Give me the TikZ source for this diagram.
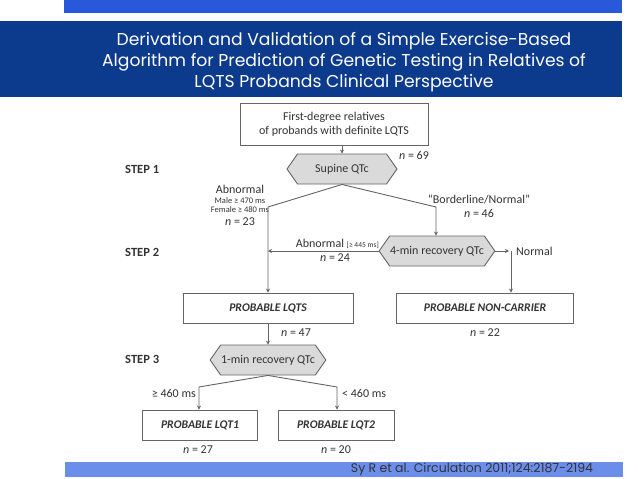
\documentclass[tikz,border=0pt]{standalone}
\usepackage{fontspec}
\setmainfont{Carlito}
\newfontfamily\titlefont{Poppins}
\usetikzlibrary{shapes.symbols,arrows.meta}

\definecolor{topblue}{RGB}{42,88,218}
\definecolor{titleblue}{RGB}{12,58,140}
\definecolor{citeblue}{RGB}{108,142,235}
\definecolor{linegray}{RGB}{100,100,100}
\definecolor{hexfill}{RGB}{218,218,218}

\begin{document}
\begin{tikzpicture}[x=1pt,y=-1pt,
  every node/.style={font=\fontsize{12}{14}\selectfont,text=black!80},
  box/.style={draw=linegray,line width=0.9pt,fill=white,minimum height=30pt,inner sep=2pt},
  hexa/.style={signal,signal to=west and east,signal pointer angle=110,draw=linegray,
    fill=hexfill,line width=0.9pt,minimum height=30pt,minimum width=110pt,inner sep=0.5pt},
  link/.style={draw=linegray,line width=0.9pt},
  arr/.style={link,-{Stealth[length=4pt,width=4pt]}},
  steplabel/.style={font=\fontsize{12.5}{14}\selectfont\bfseries,anchor=west,inner sep=0pt},
  tinytext/.style={font=\fontsize{8.5}{9}\selectfont,inner sep=0pt},
  result/.style={font=\fontsize{11.7}{14}\selectfont\bfseries\itshape}
]
  \useasboundingbox[fill=white] (0,0) rectangle (638,479);
  % banner
  \fill[topblue] (64,0) rectangle (622,13);
  \fill[titleblue] (0,21) rectangle (622,97);
  \node[text=white,align=center,font=\titlefont\fontsize{17.2}{21}\selectfont] (title) at (344,62)
    {Derivation and Validation of a Simple Exercise-Based\\
     Algorithm for Prediction of Genetic Testing in Relatives of\\
     LQTS Probands Clinical Perspective};
  \fill[citeblue] (65,462) rectangle (623,477);
  \node[font=\titlefont\fontsize{12.5}{13}\selectfont,inner sep=0pt] (cite) at (472,469)
    {Sy R et al. Circulation 2011;124:2187-2194};

  % steps
  \node[steplabel] (s1) at (125,169) {STEP 1};
  \node[steplabel] (s2) at (125,252) {STEP 2};
  \node[steplabel] (s3) at (125,359) {STEP 3};

  % boxes
  \node[box,align=center,minimum width=188pt,minimum height=42pt] (rel) at (334,124)
    {First-degree relatives\\of probands with definite LQTS};
  \node[hexa] (supine) at (342,169) {Supine QTc};
  \node[hexa] (four) at (437,251) {4-min recovery QTc};
  \node[box,minimum width=170pt,result] (lqts) at (268,308) {PROBABLE LQTS};
  \node[box,minimum width=177pt,result] (noncar) at (485,308) {PROBABLE NON-CARRIER};
  \node[hexa] (one) at (268,360) {1-min recovery QTc};
  \node[box,minimum width=115pt,result] (lqt1) at (200,425) {PROBABLE LQT1};
  \node[box,minimum width=116pt,result] (lqt2) at (336,425) {PROBABLE LQT2};

  % labels
  \node (n69) at (414,155) {\textit{n} = 69};
  \node (abn1) at (240,189) {Abnormal};
  \node[tinytext] (male) at (240,201) {Male ≥ 470 ms};
  \node[tinytext] (female) at (240,210) {Female ≥ 480 ms};
  \node (n23) at (240,222) {\textit{n} = 23};
  \node (bord) at (479,199) {“Borderline/Normal”};
  \node (n46) at (479,213) {\textit{n} = 46};
  \node[anchor=east,inner sep=0pt] (abn2) at (379,244) {Abnormal {\fontsize{7.5}{8}\selectfont[≥ 445 ms]}};
  \node (n24) at (335,258) {\textit{n} = 24};
  \node[anchor=west,inner sep=0pt] (normal) at (516,251) {Normal};
  \node (n22) at (485,333) {\textit{n} = 22};
  \node (n47) at (296,333) {\textit{n} = 47};
  \node[anchor=east,inner sep=0pt] (ge460) at (196,393) {≥ 460 ms};
  \node[anchor=west,inner sep=0pt] (lt460) at (342,393) {< 460 ms};
  \node (n27) at (198,450) {\textit{n} = 27};
  \node (n20) at (336,450) {\textit{n} = 20};

  % connectors
  \coordinate (lbend) at (268,207);
  \coordinate (rbend) at (436,207);
  \coordinate (nrm) at (511,251);
  \coordinate (b1) at (199,387);
  \coordinate (b2) at (337,387);
  \draw[arr] (supine.north |- rel.south) -- (supine.north);
  \draw[arr] (supine.south) -- (lbend) -- (lqts.north);
  \draw[arr] (supine.south) -- (rbend) -- (rbend |- four.north);
  \draw[arr] (four.west) -- (four.west -| lbend);
  \draw[arr] (four.east) -- ([xshift=-7pt]nrm -| normal.west);
  \draw[arr] (nrm) -- (nrm |- noncar.north);
  \draw[arr] (lqts.south) -- (one.north);
  \draw[arr] (one.south) -- (b1) -- (b1 |- lqt1.north);
  \draw[arr] (one.south) -- (b2) -- (b2 |- lqt2.north);
\end{tikzpicture}
\end{document}
